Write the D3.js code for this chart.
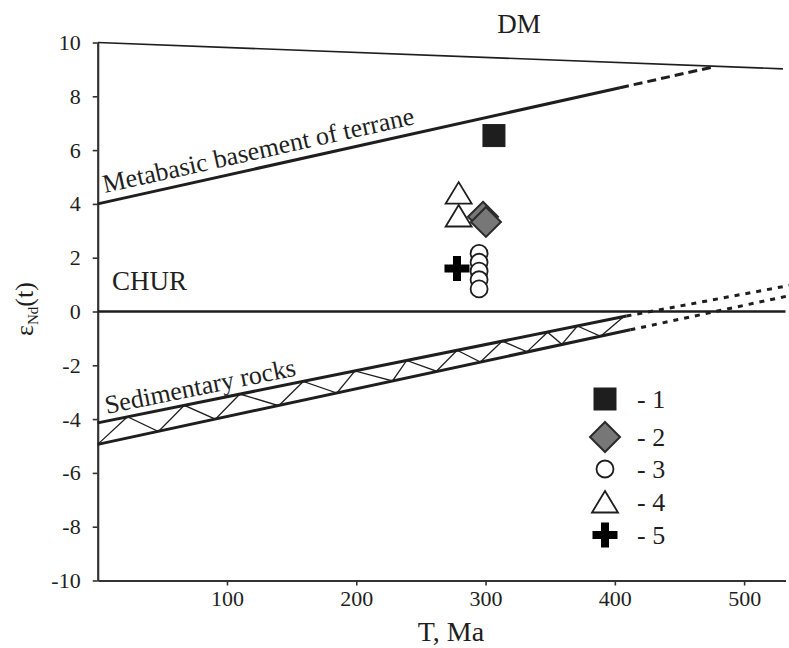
<!DOCTYPE html>
<html>
<head>
<meta charset="utf-8">
<script src="https://cdn.jsdelivr.net/npm/d3@7"></script>
<style>
  html, body { margin: 0; padding: 0; background: #fff; }
  svg { display: block; }
  svg text { font-family: "Liberation Serif", "Times New Roman", serif; }
</style>
</head>
<body>
<svg id="chart" width="789" height="648"></svg>
<script>
// ---- data ----
const xTicks = [100, 200, 300, 400, 500];
const yTicks = [-10, -8, -6, -4, -2, 0, 2, 4, 6, 8, 10];

const dmLine = [[0, 10], [530, 9.02]];
const metabasicSolid = [[0, 4], [404, 8.32]];
const metabasicDashed = [[404, 8.32], [477, 9.1]];
const churLine = [[0, 0], [532, 0]];
const sedUpper = [[0, -4.14], [409, -0.17]];
const sedLower = [[0, -4.94], [412, -0.68]];
const sedUpperDashed = [[409, -0.17], [535, 0.97]];
const sedLowerDashed = [[412, -0.68], [535, 0.59]];
const sedZigzag = [
  [0, -4.94], [23, -3.91], [47, -4.46], [67, -3.49], [91, -4.00], [110, -3.07],
  [140, -3.50], [159, -2.60], [185, -3.03], [199, -2.21], [228, -2.58], [239, -1.82],
  [262, -2.22], [278, -1.44], [296, -1.88], [313, -1.10], [332, -1.50], [348, -0.77],
  [359, -1.22], [371, -0.54], [389, -0.92], [407, -0.19]
];

const group1Squares = [[306.5, 6.54]];
const group2Diamonds = [[298, 3.52], [300.3, 3.33]];
const group3Circles = [[295, 2.16], [295, 1.83], [295, 1.50], [295, 1.18], [295, 0.84]];
const group4Triangles = [[279.2, 4.40], [279.2, 3.55]];
const group5Crosses = [[277.9, 1.60]];

const legendLabels = ["- 1", "- 2", "- 3", "- 4", "- 5"];
const legendSymbols = ["square", "diamond", "circle", "triangle", "cross"];

// ---- scales ----
const svg = d3.select("#chart");
const x = d3.scaleLinear().domain([0, 532]).range([97.7, 785.5]);
const y = d3.scaleLinear().domain([-10, 10]).range([580.5, 42.5]);
const ink = "#1e1e1e";
const fam = "'Liberation Serif', 'Times New Roman', serif";

// ---- axes ----
const xAxis = svg.append("g").attr("transform", `translate(0,${y(-10)})`)
  .call(d3.axisBottom(x).tickValues(xTicks).tickFormat(d => String(d))
    .tickSize(5).tickSizeOuter(0).tickPadding(5));
const yAxis = svg.append("g").attr("transform", `translate(${x(0)},0)`)
  .call(d3.axisLeft(y).tickValues(yTicks).tickFormat(d => String(d))
    .tickSize(5).tickSizeOuter(0).tickPadding(12));
[xAxis, yAxis].forEach(a => {
  a.attr("font-family", fam).attr("font-size", 22);
  a.select(".domain").attr("stroke", "#333").attr("stroke-width", 2.2);
  a.selectAll(".tick line").attr("stroke", "#333").attr("stroke-width", 1.6);
  a.selectAll(".tick text").attr("fill", ink);
});

// ---- lines ----
const line = d3.line().x(d => x(d[0])).y(d => y(d[1]));
function drawLine(data, w, dash) {
  const p = svg.append("path").attr("d", line(data)).attr("fill", "none")
    .attr("stroke", ink).attr("stroke-width", w);
  if (dash) p.attr("stroke-dasharray", dash);
  return p;
}
drawLine(dmLine, 1.6);
drawLine(metabasicSolid, 3);
drawLine(metabasicDashed, 3, "9,5");
drawLine(churLine, 2.6);
drawLine(sedZigzag, 1.3);
drawLine(sedUpper, 3);
drawLine(sedLower, 3);
drawLine(sedUpperDashed, 3, "5,6");
drawLine(sedLowerDashed, 3, "5,6");

// ---- text labels ----
function angleOf(seg) {
  return Math.atan2(y(seg[1][1]) - y(seg[0][1]), x(seg[1][0]) - x(seg[0][0])) * 180 / Math.PI;
}
function slantLabel(seg, t0, off, txt, size) {
  const a = angleOf(seg);
  const yy = seg[0][1] + (seg[1][1] - seg[0][1]) * (t0 - seg[0][0]) / (seg[1][0] - seg[0][0]);
  svg.append("text")
    .attr("transform", `translate(${x(t0)},${y(yy)}) rotate(${a}) translate(0,${-off})`)
    .attr("fill", ink).attr("font-family", fam).attr("font-size", size).text(txt);
}
slantLabel(metabasicSolid, 7, 9, "Metabasic basement of terrane", 26);
slantLabel(sedUpper, 8, 7, "Sedimentary rocks", 26);

svg.append("text").attr("x", 519).attr("y", 33).attr("text-anchor", "middle")
  .attr("fill", ink).attr("font-family", fam).attr("font-size", 27).text("DM");
svg.append("text").attr("x", 112).attr("y", 290)
  .attr("fill", ink).attr("font-family", fam).attr("font-size", 27).text("CHUR");

svg.append("text").attr("x", 451).attr("y", 641).attr("text-anchor", "middle")
  .attr("fill", ink).attr("font-family", fam).attr("font-size", 28).text("T, Ma");

const yt = svg.append("text").attr("transform", "translate(33,309) rotate(-90)")
  .attr("text-anchor", "middle").attr("fill", ink).attr("font-family", fam).attr("font-size", 26);
yt.append("tspan").text("ε");
yt.append("tspan").attr("dy", 5).attr("font-size", 15).text("Nd");
yt.append("tspan").attr("dy", -5).text("(t)");

// ---- symbols ----
function symbol(g, type, cx, cy) {
  if (type === "square") {
    g.append("rect").attr("x", cx - 11).attr("y", cy - 11).attr("width", 22).attr("height", 22)
      .attr("fill", "#1e1e1e").attr("stroke", "#1e1e1e").attr("stroke-width", 1);
  } else if (type === "diamond") {
    g.append("path").attr("d", `M${cx},${cy - 15}L${cx + 15},${cy}L${cx},${cy + 15}L${cx - 15},${cy}Z`)
      .attr("fill", "#777").attr("stroke", "#2a2a2a").attr("stroke-width", 2);
  } else if (type === "circle") {
    g.append("circle").attr("cx", cx).attr("cy", cy).attr("r", 8.5)
      .attr("fill", "#fff").attr("stroke", ink).attr("stroke-width", 1.8);
  } else if (type === "triangle") {
    g.append("path").attr("d", `M${cx},${cy - 11}L${cx + 13},${cy + 10.5}L${cx - 13},${cy + 10.5}Z`)
      .attr("fill", "#fff").attr("stroke", ink).attr("stroke-width", 1.8);
  } else if (type === "cross") {
    const a = 12.5, t = 4;
    g.append("path").attr("d",
      `M${cx - t},${cy - a}H${cx + t}V${cy - t}H${cx + a}V${cy + t}H${cx + t}V${cy + a}H${cx - t}V${cy + t}H${cx - a}V${cy - t}H${cx - t}Z`)
      .attr("fill", "#000");
  }
}
const pts = svg.append("g");
group4Triangles.forEach(d => symbol(pts, "triangle", x(d[0]), y(d[1])));
group2Diamonds.forEach(d => symbol(pts, "diamond", x(d[0]), y(d[1])));
group1Squares.forEach(d => symbol(pts, "square", x(d[0]), y(d[1])));
group5Crosses.forEach(d => symbol(pts, "cross", x(d[0]), y(d[1])));
group3Circles.forEach(d => symbol(pts, "circle", x(d[0]), y(d[1])));

// ---- legend ----
const legendY = [399, 437, 469, 502, 535];
const lg = svg.append("g");
legendSymbols.forEach((s, i) => {
  symbol(lg, s, 605, legendY[i]);
  lg.append("text").attr("x", 637).attr("y", legendY[i]).attr("dy", "0.35em")
    .attr("fill", ink).attr("font-family", fam).attr("font-size", 26).text(legendLabels[i]);
});
</script>
</body>
</html>
